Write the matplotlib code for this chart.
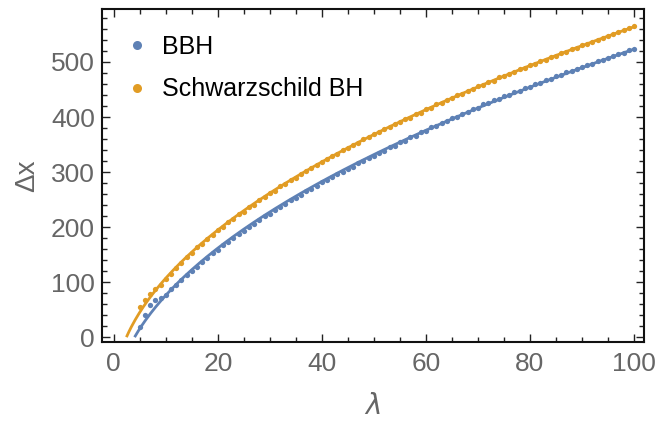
import numpy as np
import matplotlib
matplotlib.use("Agg")
import matplotlib.pyplot as plt
from matplotlib.lines import Line2D
from matplotlib.ticker import MultipleLocator

plt.rcParams['font.family'] = ['Liberation Sans', 'DejaVu Sans']

lam = list(range(5, 101))

bbh = [19, 41, 58, 68, 72, 77, 88, 94, 103, 113, 121, 128, 137, 144, 152, 159,
       167, 173, 180, 188, 193, 201, 206, 213, 220, 224, 231, 237, 242, 249,
       253, 259, 265, 270, 275, 281, 285, 291, 296, 300, 306, 310, 316, 320,
       326, 330, 335, 339, 345, 348, 354, 357, 363, 366, 372, 375, 381, 384,
       390, 392, 398, 400, 406, 409, 415, 417, 423, 425, 431, 432, 438, 440,
       446, 447, 453, 455, 460, 462, 467, 469, 474, 476, 481, 483, 488, 490,
       495, 497, 502, 504, 508, 511, 515, 517, 522, 524]

schw = [54, 67, 78, 87, 95, 106, 115, 125, 135, 145, 153, 163, 170, 179, 185,
        194, 200, 209, 214, 223, 228, 236, 241, 249, 254, 262, 266, 274, 278,
        286, 290, 297, 301, 308, 312, 319, 323, 330, 333, 340, 343, 350, 353,
        360, 363, 369, 372, 379, 381, 388, 391, 397, 399, 406, 408, 414, 417,
        423, 425, 431, 434, 440, 442, 448, 450, 456, 458, 464, 466, 472, 474,
        479, 482, 487, 489, 494, 497, 502, 504, 509, 511, 516, 519, 523, 526,
        530, 533, 537, 540, 544, 547, 551, 554, 558, 561, 565]

labels = ["BBH", "Schwarzschild BH"]
colors = ["#5E81B5", "#E19C24"]

x_major = [0, 20, 40, 60, 80, 100]
y_major = [0, 100, 200, 300, 400, 500]

fig = plt.figure(figsize=(6.7, 4.24), dpi=100)
ax = fig.add_axes([0.152, 0.193, 0.809, 0.786])

lam_arr = np.array(lam, dtype=float)
for ys, c in zip([bbh, schw], colors):
    ys = np.array(ys, dtype=float)
    a, b = np.polyfit(np.sqrt(lam_arr), ys, 1)
    x0 = (b / a) ** 2 if b < 0 else 0.0
    xf = np.linspace(x0, 100, 400)
    ax.plot(xf, a * np.sqrt(xf) + b, color=c, lw=2.0, zorder=2,
            solid_capstyle='butt')
    ax.plot(lam_arr, ys, 'o', color=c, ms=3.8, mew=0, zorder=3)

ax.set_xlim(-2.3, 101.9)
ax.set_ylim(-9.1, 596.4)
ax.set_xticks(x_major)
ax.set_yticks(y_major)
ax.xaxis.set_minor_locator(MultipleLocator(5))
ax.yaxis.set_minor_locator(MultipleLocator(20))
ax.tick_params(which='both', direction='in', top=True, right=True,
               colors='#222222', labelcolor='#666666', labelsize=19, width=1)
ax.tick_params(which='major', length=6)
ax.tick_params(which='minor', length=3.5)
ax.tick_params(axis='x', pad=7)
ax.tick_params(axis='y', pad=5)
for s in ax.spines.values():
    s.set_linewidth(1.5)
    s.set_color('#111111')

ax.set_xlabel(r"$\lambda$", fontsize=20, color='#666666', labelpad=13)
ax.set_ylabel(u"\u0394x", fontsize=20, color='#666666', labelpad=8)

handles = [Line2D([], [], ls='none', marker='o', ms=6.5, mew=0, color=c) for c in colors]
ax.legend(handles, labels, loc='upper left', bbox_to_anchor=(0.005, 0.975),
          frameon=False, fontsize=18, handletextpad=0.4, labelspacing=0.75,
          handlelength=1.2, borderaxespad=0.3)

fig.savefig("out.png", dpi=100)
